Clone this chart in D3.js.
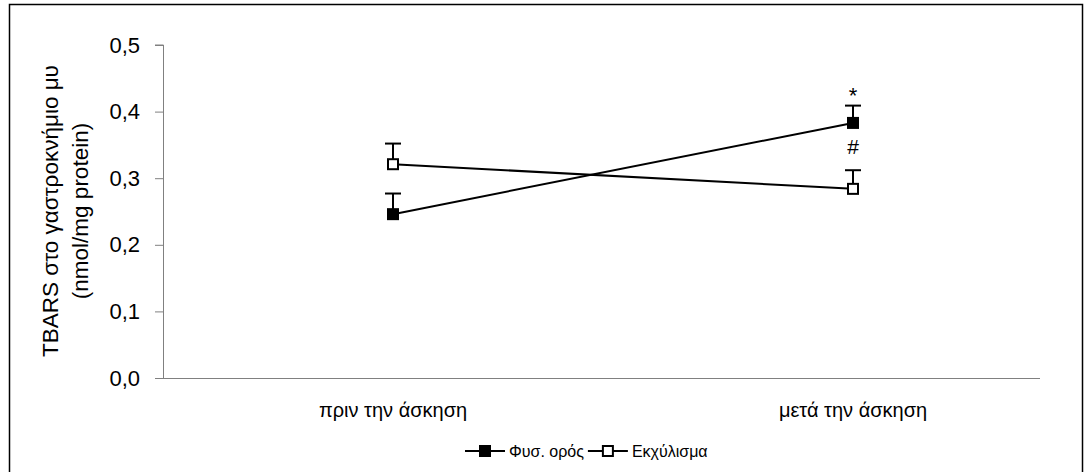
<!DOCTYPE html>
<html>
<head>
<meta charset="utf-8">
<script src="https://cdn.jsdelivr.net/npm/d3@7"></script>
<style>
  body { margin: 0; background: #fff; }
  svg { display: block; font-family: "Liberation Sans", Arial, sans-serif; }
</style>
</head>
<body>
<svg id="chart" width="1091" height="472"></svg>
<script>
/* data */
const categories = ["πριν την άσκηση", "μετά  την άσκηση"];
const seriesNames = ["Φυσ. ορός", "Εκχύλισμα"];
const salineValues = [0.246, 0.383];
const salineErrors = [0.031, 0.026];
const extractValues = [0.321, 0.284];
const extractErrors = [0.031, 0.028];
const yTicks = [0, 0.1, 0.2, 0.3, 0.4, 0.5];
const marks = [{ cat: 1, above: "*", below: "#" }];

const svg = d3.select("#chart");
const margin = { left: 163, top: 45, right: 1083, bottom: 378 };
const axisEnd = 1040;

/* frame around the whole chart */
svg.append("rect")
    .attr("x", 9.5).attr("y", 4.5)
    .attr("width", 1073).attr("height", 480)
    .attr("fill", "none")
    .attr("stroke", "#000")
    .attr("stroke-width", 1.5);

var x = d3.scaleBand()
    .domain(categories)
    .range([margin.left, margin.right]);

var y = d3.scaleLinear()
    .domain([0, 0.5])
    .range([margin.bottom, margin.top]);

/* y axis */
var yAxis = d3.axisLeft(y)
    .tickValues(yTicks)
    .tickSize(8)
    .tickPadding(15)
    .tickFormat(d => d3.format(".1f")(d).replace(".", ","));

svg.append("g")
    .attr("class", "yAxis")
    .attr("transform", "translate(" + margin.left + ",0)")
    .call(yAxis)
    .call(g => g.select(".domain").attr("stroke", "#808080").attr("d", "M-8," + y(0.5) + "H0.5V" + y(0)))
    .call(g => g.selectAll(".tick line").attr("stroke", "#808080"))
    .call(g => g.selectAll(".tick text").style("font-size", "22px").attr("fill", "#000"));

/* x axis */
var xAxis = d3.axisBottom(x)
    .tickSize(0)
    .tickPadding(25);

svg.append("g")
    .attr("class", "xAxis")
    .attr("transform", "translate(0," + margin.bottom + ")")
    .call(xAxis)
    .call(g => g.select(".domain").attr("stroke", "#808080").attr("d", "M" + margin.left + ",0.5H" + axisEnd))
    .call(g => g.selectAll(".tick text").style("font-size", "20px").attr("fill", "#000"));

/* y axis title */
svg.append("text")
    .attr("transform", "translate(50," + 211 + ") rotate(-90)")
    .attr("text-anchor", "middle")
    .style("font-size", "22.5px")
    .selectAll("tspan")
    .data(["TBARS στο γαστροκνήμιο μυ", "(nmol/mg protein)"])
    .join("tspan")
    .attr("x", 0)
    .attr("dy", (d, i) => i === 0 ? "0.35em" : "1.35em")
    .text(d => d);

const series = [
    { name: seriesNames[0], values: salineValues, errors: salineErrors, fill: "#000" },
    { name: seriesNames[1], values: extractValues, errors: extractErrors, fill: "#fff" }
];

const cx = c => x(c) + x.bandwidth() / 2;
const line = d3.line()
    .x((d, i) => cx(categories[i]))
    .y(d => y(d));

series.forEach(s => {
    const g = svg.append("g").attr("class", "series");

    /* error bars (plus direction only) */
    s.values.forEach((v, i) => {
        const px = cx(categories[i]);
        g.append("line")
            .attr("x1", px).attr("x2", px)
            .attr("y1", y(v)).attr("y2", y(v + s.errors[i]))
            .attr("stroke", "#000").attr("stroke-width", 2);
        g.append("line")
            .attr("x1", px - 8).attr("x2", px + 8)
            .attr("y1", y(v + s.errors[i])).attr("y2", y(v + s.errors[i]))
            .attr("stroke", "#000").attr("stroke-width", 2);
    });

    g.append("path")
        .datum(s.values)
        .attr("d", line)
        .attr("fill", "none")
        .attr("stroke", "#000")
        .attr("stroke-width", 2);

    g.selectAll("rect")
        .data(s.values)
        .join("rect")
        .attr("x", (d, i) => cx(categories[i]) - 5)
        .attr("y", d => y(d) - 5)
        .attr("width", 10).attr("height", 10)
        .attr("fill", s.fill)
        .attr("stroke", "#000")
        .attr("stroke-width", 2);
});

/* significance marks */
marks.forEach(m => {
    const px = cx(categories[m.cat]);
    svg.append("text")
        .attr("x", px).attr("y", y(salineValues[m.cat] + salineErrors[m.cat]) - 3)
        .attr("text-anchor", "middle")
        .style("font-size", "22px")
        .text(m.above);
    svg.append("text")
        .attr("x", px).attr("y", y(salineValues[m.cat]) + 31)
        .attr("text-anchor", "middle")
        .style("font-size", "21px")
        .text(m.below);
});

/* legend */
const legend = svg.append("g").attr("class", "legend")
    .attr("transform", "translate(465,451)");
let lx = 0;
series.forEach(s => {
    const item = legend.append("g").attr("transform", "translate(" + lx + ",0)");
    item.append("line")
        .attr("x1", 0).attr("x2", 40)
        .attr("stroke", "#000").attr("stroke-width", 2);
    item.append("rect")
        .attr("x", 15).attr("y", -5)
        .attr("width", 10).attr("height", 10)
        .attr("fill", s.fill).attr("stroke", "#000").attr("stroke-width", 2);
    const t = item.append("text")
        .attr("x", 44).attr("dy", "0.35em")
        .style("font-size", "16px")
        .text(s.name);
    lx += 44 + t.node().getComputedTextLength() + 4;
});
</script>
</body>
</html>
